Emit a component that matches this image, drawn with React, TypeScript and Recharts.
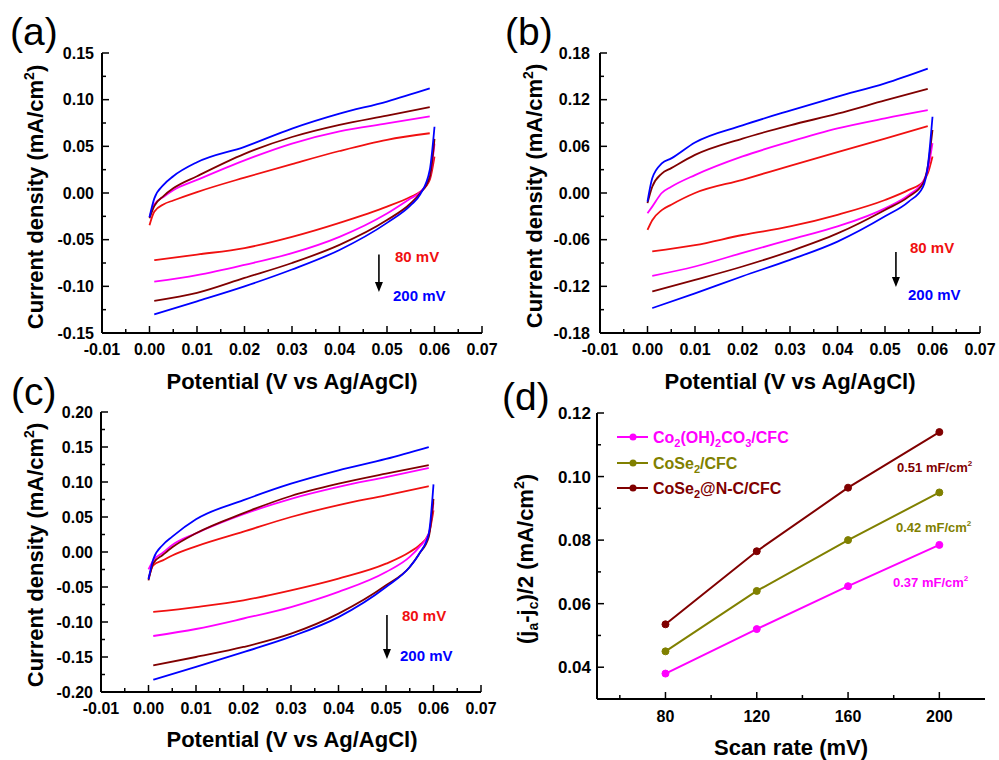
import { LineChart, Line, XAxis, YAxis, ReferenceLine } from 'recharts';

const FONT = '"Liberation Sans", Arial, Helvetica, sans-serif';
const RED = '#f01010';
const MAGENTA = '#ff00ff';
const DARK_RED = '#800000';
const BLUE = '#0000ff';
const OLIVE = '#808000';
const AXIS = { stroke: '#000', strokeWidth: 2 };
const TICK_GAP = 4;

// ---- CV data: potential sample points (V) ----
const upperX = [0, 0.001, 0.003, 0.005, 0.01, 0.02, 0.03, 0.04, 0.05, 0.059];
const lowerXa = [0.001, 0.01, 0.02, 0.03, 0.04, 0.05, 0.055, 0.057, 0.059, 0.06];
const lowerXb = [0.001, 0.01, 0.02, 0.03, 0.04, 0.05, 0.055, 0.058, 0.059, 0.06];
const lowerXc = [0.001, 0.01, 0.02, 0.03, 0.04, 0.05, 0.055, 0.057, 0.059, 0.06];

// (a) current density, mA/cm2 (80 / 120 / 160 / 200 mV)
const aRedUp = [-0.0345, -0.02, -0.012, -0.008, 0.001, 0.0165, 0.031, 0.045, 0.057, 0.064];
const aRedDown = [-0.072, -0.066, -0.059, -0.047, -0.032, -0.0146, -0.004, 0.0014, 0.014, 0.039];
const aMagUp = [-0.026, -0.012, -0.004, 0.003, 0.014, 0.035, 0.053, 0.066, 0.0745, 0.082];
const aMagDown = [-0.095, -0.088, -0.077, -0.0645, -0.047, -0.022, -0.0057, 0.001, 0.017, 0.053];
const aDarkUp = [-0.027, -0.014, -0.003, 0.005, 0.018, 0.042, 0.06, 0.073, 0.083, 0.092];
const aDarkDown = [-0.1155, -0.107, -0.091, -0.075, -0.0556, -0.029, -0.011, 0, 0.017, 0.058];
const aBlueUp = [-0.026, -0.006, 0.009, 0.018, 0.033, 0.0495, 0.069, 0.085, 0.098, 0.112];
const aBlueDown = [-0.13, -0.116, -0.1, -0.082, -0.061, -0.032, -0.013, -0.0014, 0.0246, 0.071];

// (b)
const bRedUp = [-0.0475, -0.035, -0.022, -0.015, 0, 0.017, 0.035, 0.0526, 0.07, 0.086];
const bRedDown = [-0.075, -0.067, -0.054, -0.043, -0.028, -0.009, 0.004, 0.0145, 0.025, 0.047];
const bMagUp = [-0.026, -0.0175, 0, 0.008, 0.023, 0.047, 0.066, 0.083, 0.096, 0.1065];
const bMagDown = [-0.1065, -0.0945, -0.077, -0.06, -0.043, -0.0197, -0.0026, 0.0145, 0.0295, 0.064];
const bDarkUp = [-0.013, 0.008, 0.025, 0.032, 0.049, 0.07, 0.087, 0.102, 0.119, 0.134];
const bDarkDown = [-0.1266, -0.1117, -0.0945, -0.075, -0.052, -0.0218, -0.0047, 0.0124, 0.034, 0.081];
const bBlueUp = [-0.011, 0.019, 0.038, 0.0445, 0.065, 0.087, 0.106, 0.124, 0.141, 0.16];
const bBlueDown = [-0.148, -0.129, -0.107, -0.086, -0.0625, -0.03, -0.011, 0.008, 0.034, 0.098];

// (c)
const cRedUp = [-0.038, -0.019, -0.012, -0.005, 0.008, 0.029, 0.05, 0.067, 0.081, 0.094];
const cRedDown = [-0.0857, -0.0786, -0.069, -0.0548, -0.038, -0.0167, 0, 0.0095, 0.026, 0.0595];
const cMagUp = [-0.0247, -0.012, -0.001, 0.01, 0.0267, 0.054, 0.076, 0.093, 0.107, 0.12];
const cMagDown = [-0.12, -0.11, -0.095, -0.0786, -0.057, -0.0286, -0.007, 0.007, 0.026, 0.071];
const cDarkUp = [-0.0405, -0.016, -0.0043, 0.0067, 0.0267, 0.0555, 0.08, 0.0976, 0.112, 0.124];
const cDarkDown = [-0.162, -0.15, -0.1357, -0.1167, -0.088, -0.0476, -0.0214, -0.0024, 0.0214, 0.076];
const cBlueUp = [-0.039, -0.0104, 0.01, 0.0219, 0.0467, 0.074, 0.0976, 0.1167, 0.133, 0.15];
const cBlueDown = [-0.1824, -0.164, -0.143, -0.121, -0.093, -0.05, -0.0214, -0.0024, 0.026, 0.0967];

// ---- axis ticks ----
const cvXDomain = [-0.01, 0.07];
const cvXMajor = [-0.01, 0, 0.01, 0.02, 0.03, 0.04, 0.05, 0.06, 0.07];
const cvXMinor = [-0.005, 0.005, 0.015, 0.025, 0.035, 0.045, 0.055, 0.065];
const aYMajor = [-0.15, -0.1, -0.05, 0, 0.05, 0.1, 0.15];
const aYMinor = [-0.125, -0.075, -0.025, 0.025, 0.075, 0.125];
const bYMajor = [-0.18, -0.12, -0.06, 0, 0.06, 0.12, 0.18];
const bYMinor = [-0.15, -0.09, -0.03, 0.03, 0.09, 0.15];
const cYMajor = [-0.2, -0.15, -0.1, -0.05, 0, 0.05, 0.1, 0.15, 0.2];
const cYMinor = [-0.175, -0.125, -0.075, -0.025, 0.025, 0.075, 0.125, 0.175];

// ---- (d) half current difference vs scan rate ----
const scanRates = [80, 120, 160, 200];
const coOhCo3 = [0.038, 0.052, 0.0655, 0.0785];
const coSe2 = [0.045, 0.064, 0.08, 0.095];
const coSe2NC = [0.0535, 0.0765, 0.0965, 0.114];
const dXMajor = [80, 120, 160, 200];
const dXMinor = [60, 100, 140, 180];
const dYMajor = [0.04, 0.06, 0.08, 0.1, 0.12];
const dYMinor = [0.05, 0.07, 0.09, 0.11];

const zip = (xs: number[], ys: number[]) => xs.map((x, i) => ({ x, y: ys[i] }));
const isMajor = (v: number, majors: number[]) => majors.some((m) => Math.abs(m - v) < 1e-9);
const sortTicks = (a: number[], b: number[]) => [...a, ...b].sort((p, q) => p - q);

function makeXTick(majors: number[], fmt: (v: number) => string, labelDy: number) {
  return (props: any) => {
    const { x, y, payload } = props;
    const ay = y - TICK_GAP;
    const major = isMajor(payload.value, majors);
    return (
      <g>
        <line x1={x} x2={x} y1={ay} y2={ay - (major ? 7 : 4)} stroke="#000" strokeWidth={1.5} />
        {major && (
          <text x={x} y={ay + labelDy} textAnchor="middle" fontFamily={FONT} fontWeight="bold" fontSize={16} fill="#000">
            {fmt(payload.value)}
          </text>
        )}
      </g>
    );
  };
}

function makeYTick(majors: number[], gap: number, size: number) {
  return (props: any) => {
    const { x, y, payload } = props;
    const ax = x + TICK_GAP;
    const major = isMajor(payload.value, majors);
    return (
      <g>
        <line x1={ax} x2={ax + (major ? 7 : 4)} y1={y} y2={y} stroke="#000" strokeWidth={1.5} />
        {major && (
          <text x={ax - gap} y={y} dy={size * 0.36} textAnchor="end" fontFamily={FONT} fontWeight="bold" fontSize={size} fill="#000">
            {payload.value.toFixed(2)}
          </text>
        )}
      </g>
    );
  };
}

const arrowShape = (props: any) => {
  const { x1, y1, x2, y2 } = props;
  return (
    <g>
      <line x1={x1} y1={y1} x2={x2} y2={y2 - 8} stroke="#000" strokeWidth={1.6} />
      <polygon points={`${x2 - 4},${y2 - 10} ${x2 + 4},${y2 - 10} ${x2},${y2}`} fill="#000" />
    </g>
  );
};

type Curve = { color: string; up: number[]; down: number[] };
type CvProps = {
  left: number;
  top: number;
  margin: { top: number; right: number; bottom: number; left: number };
  yDomain: number[];
  yMajor: number[];
  yMinor: number[];
  lowerX: number[];
  curves: Curve[];
  arrow: { x: number; y1: number; y2: number };
  yGap: number;
};

function CvPanel({ left, top, margin, yDomain, yMajor, yMinor, lowerX, curves, arrow, yGap }: CvProps) {
  return (
    <div style={{ position: 'absolute', left, top }}>
      <LineChart width={500} height={380} margin={margin}>
        <XAxis
          type="number"
          dataKey="x"
          domain={cvXDomain}
          ticks={sortTicks(cvXMajor, cvXMinor)}
          interval={0}
          tickSize={0}
          tickMargin={TICK_GAP}
          height={30}
          axisLine={AXIS}
          tickLine={false}
          tick={makeXTick(cvXMajor, (v) => v.toFixed(2), 22)}
          allowDataOverflow
        />
        <XAxis xAxisId="top" orientation="top" type="number" domain={cvXDomain} height={0} tick={false} tickLine={false} axisLine={AXIS} allowDataOverflow />
        <YAxis
          type="number"
          domain={yDomain}
          ticks={sortTicks(yMajor, yMinor)}
          interval={0}
          tickSize={0}
          tickMargin={TICK_GAP}
          width={60}
          axisLine={AXIS}
          tickLine={false}
          tick={makeYTick(yMajor, yGap, 16)}
          allowDataOverflow
        />
        <YAxis yAxisId="right" orientation="right" type="number" domain={yDomain} width={0} tick={false} tickLine={false} axisLine={AXIS} />
        {curves.flatMap((c, i) => [
          <Line key={`u${i}`} data={zip(upperX, c.up)} dataKey="y" type="monotone" stroke={c.color} strokeWidth={1.8} dot={false} activeDot={false} isAnimationActive={false} />,
          <Line key={`d${i}`} data={zip(lowerX, c.down)} dataKey="y" type="monotone" stroke={c.color} strokeWidth={1.8} dot={false} activeDot={false} isAnimationActive={false} />,
        ])}
        <ReferenceLine
          segment={[
            { x: arrow.x, y: arrow.y1 },
            { x: arrow.x, y: arrow.y2 },
          ]}
          shape={arrowShape}
        />
      </LineChart>
    </div>
  );
}

const scanTable = scanRates.map((rate, i) => ({ rate, co: coOhCo3[i], se: coSe2[i], nc: coSe2NC[i] }));

function ScanRatePanel() {
  const series = [
    { key: 'co', color: MAGENTA },
    { key: 'se', color: OLIVE },
    { key: 'nc', color: DARK_RED },
  ];
  return (
    <div style={{ position: 'absolute', left: 500, top: 380 }}>
      <LineChart width={500} height={380} data={scanTable} margin={{ top: 33, right: 15, bottom: 31, left: 37 }}>
        <XAxis
          type="number"
          dataKey="rate"
          domain={[50, 220]}
          ticks={sortTicks(dXMajor, dXMinor)}
          interval={0}
          tickSize={0}
          tickMargin={TICK_GAP}
          height={30}
          axisLine={AXIS}
          tickLine={false}
          tick={makeXTick(dXMajor, (v) => String(v), 23)}
          allowDataOverflow
        />
        <XAxis xAxisId="top" orientation="top" type="number" domain={[50, 220]} height={0} tick={false} tickLine={false} axisLine={AXIS} allowDataOverflow />
        <YAxis
          type="number"
          domain={[0.03, 0.12]}
          ticks={sortTicks(dYMajor, dYMinor)}
          interval={0}
          tickSize={0}
          tickMargin={TICK_GAP}
          width={60}
          axisLine={AXIS}
          tickLine={false}
          tick={makeYTick(dYMajor, 6, 17)}
          allowDataOverflow
        />
        <YAxis yAxisId="right" orientation="right" type="number" domain={[0.03, 0.12]} width={0} tick={false} tickLine={false} axisLine={AXIS} />
        {series.map((s) => (
          <Line
            key={s.key}
            dataKey={s.key}
            type="linear"
            stroke={s.color}
            strokeWidth={2}
            dot={{ r: 3.5, fill: s.color, stroke: s.color, strokeWidth: 1 }}
            activeDot={false}
            isAnimationActive={false}
          />
        ))}
      </LineChart>
    </div>
  );
}

const boldText = { fontFamily: FONT, fontWeight: 'bold' as const };

function CvYTitle({ x, y }: { x: number; y: number }) {
  return (
    <text transform={`translate(${x},${y}) rotate(-90)`} textAnchor="middle" fontSize={22} fill="#000" {...boldText}>
      Current density (mA/cm
      <tspan dy={-9} fontSize={14}>2</tspan>
      <tspan dy={9}>)</tspan>
    </text>
  );
}

function RateLabels({ x, y80, y200 }: { x: number; y80: number; y200: number }) {
  return (
    <g {...boldText} fontSize={15}>
      <text x={x + 2} y={y80} fill={RED}>80 mV</text>
      <text x={x} y={y200} fill={BLUE}>200 mV</text>
    </g>
  );
}

const legendRows = [
  { color: MAGENTA, y: 437 },
  { color: OLIVE, y: 463 },
  { color: DARK_RED, y: 488 },
];

function Overlay() {
  return (
    <svg width={999} height={760} style={{ position: 'absolute', left: 0, top: 0, pointerEvents: 'none' }}>
      {/* panel letters */}
      <g fontFamily={FONT} fontSize={39} fill="#000">
        <text x={10} y={45}>(a)</text>
        <text x={505} y={45}>(b)</text>
        <text x={11} y={405}>(c)</text>
        <text x={502} y={410}>(d)</text>
      </g>

      {/* axis titles */}
      <CvYTitle x={43} y={197} />
      <CvYTitle x={542} y={196} />
      <CvYTitle x={43} y={555} />
      <text transform="translate(533,559) rotate(-90)" textAnchor="middle" fontSize={22} fill="#000" {...boldText}>
        (j<tspan dy={5} fontSize={14}>a</tspan>
        <tspan dy={-5}>-j</tspan>
        <tspan dy={5} fontSize={14}>c</tspan>
        <tspan dy={-5}>)/2 (mA/cm</tspan>
        <tspan dy={-9} fontSize={14}>2</tspan>
        <tspan dy={9}>)</tspan>
      </text>
      <g textAnchor="middle" fontSize={22} fill="#000" {...boldText}>
        <text x={292} y={389}>Potential (V vs Ag/AgCl)</text>
        <text x={790} y={389}>Potential (V vs Ag/AgCl)</text>
        <text x={292} y={747}>Potential (V vs Ag/AgCl)</text>
        <text x={791} y={755}>Scan rate (mV)</text>
      </g>

      {/* scan-rate annotations */}
      <RateLabels x={393} y80={262} y200={301} />
      <RateLabels x={908} y80={253} y200={300} />
      <RateLabels x={400} y80={621} y200={661} />

      {/* capacitance labels */}
      <g {...boldText} fontSize={13}>
        <text x={897} y={472} fill={DARK_RED}>
          0.51 mF/cm<tspan dy={-6} fontSize={8}>2</tspan>
        </text>
        <text x={896} y={532} fill={OLIVE}>
          0.42 mF/cm<tspan dy={-6} fontSize={8}>2</tspan>
        </text>
        <text x={893} y={587} fill={MAGENTA}>
          0.37 mF/cm<tspan dy={-6} fontSize={8}>2</tspan>
        </text>
      </g>

      {/* legend */}
      {legendRows.map((r) => (
        <g key={r.y}>
          <line x1={617} x2={648} y1={r.y} y2={r.y} stroke={r.color} strokeWidth={2} />
          <circle cx={633} cy={r.y} r={3.5} fill={r.color} />
        </g>
      ))}
      <g {...boldText} fontSize={16}>
        <text x={653} y={443} fill={MAGENTA}>
          Co<tspan dy={4} fontSize={11}>2</tspan>
          <tspan dy={-4}>(OH)</tspan>
          <tspan dy={4} fontSize={11}>2</tspan>
          <tspan dy={-4}>CO</tspan>
          <tspan dy={4} fontSize={11}>3</tspan>
          <tspan dy={-4}>/CFC</tspan>
        </text>
        <text x={653} y={469} fill={OLIVE}>
          CoSe<tspan dy={4} fontSize={11}>2</tspan>
          <tspan dy={-4}>/CFC</tspan>
        </text>
        <text x={653} y={494} fill={DARK_RED}>
          CoSe<tspan dy={4} fontSize={11}>2</tspan>
          <tspan dy={-4}>@N-C/CFC</tspan>
        </text>
      </g>
    </svg>
  );
}

export default function App() {
  return (
    <div style={{ position: 'absolute', left: 0, top: 0, width: 999, height: 760, background: '#fff', overflow: 'hidden' }}>
      <CvPanel
        left={0}
        top={0}
        margin={{ top: 53, right: 18, bottom: 17, left: 42 }}
        yDomain={[-0.15, 0.15]}
        yMajor={aYMajor}
        yMinor={aYMinor}
        lowerX={lowerXa}
        yGap={8}
        arrow={{ x: 0.0483, y1: -0.066, y2: -0.106 }}
        curves={[
          { color: RED, up: aRedUp, down: aRedDown },
          { color: MAGENTA, up: aMagUp, down: aMagDown },
          { color: DARK_RED, up: aDarkUp, down: aDarkDown },
          { color: BLUE, up: aBlueUp, down: aBlueDown },
        ]}
      />
      <CvPanel
        left={500}
        top={0}
        margin={{ top: 53, right: 20, bottom: 17, left: 40 }}
        yDomain={[-0.18, 0.18]}
        yMajor={bYMajor}
        yMinor={bYMinor}
        lowerX={lowerXb}
        yGap={10}
        arrow={{ x: 0.0523, y1: -0.076, y2: -0.121 }}
        curves={[
          { color: RED, up: bRedUp, down: bRedDown },
          { color: MAGENTA, up: bMagUp, down: bMagDown },
          { color: DARK_RED, up: bDarkUp, down: bDarkDown },
          { color: BLUE, up: bBlueUp, down: bBlueDown },
        ]}
      />
      <CvPanel
        left={0}
        top={380}
        margin={{ top: 32, right: 19, bottom: 38, left: 41 }}
        yDomain={[-0.2, 0.2]}
        yMajor={cYMajor}
        yMinor={cYMinor}
        lowerX={lowerXc}
        yGap={8}
        arrow={{ x: 0.0502, y1: -0.09, y2: -0.153 }}
        curves={[
          { color: RED, up: cRedUp, down: cRedDown },
          { color: MAGENTA, up: cMagUp, down: cMagDown },
          { color: DARK_RED, up: cDarkUp, down: cDarkDown },
          { color: BLUE, up: cBlueUp, down: cBlueDown },
        ]}
      />
      <ScanRatePanel />
      <Overlay />
    </div>
  );
}
